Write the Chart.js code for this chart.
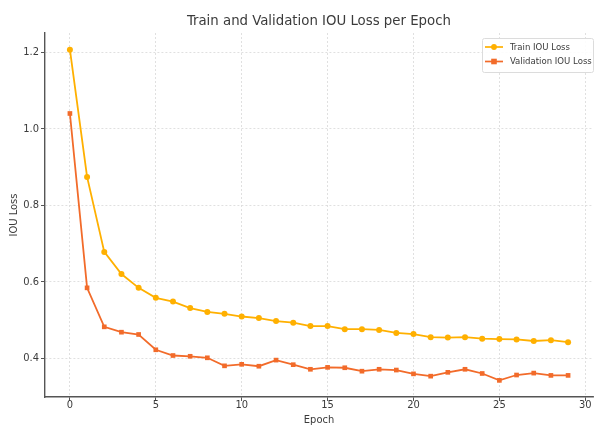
<!DOCTYPE html>
<html>
<head>
<meta charset="utf-8">
<script src="https://cdn.jsdelivr.net/npm/chart.js@4.4.1/dist/chart.umd.min.js"></script>
<style>
html,body{margin:0;padding:0;background:#fff;}
#wrap{width:597px;height:426px;position:relative;}
</style>
</head>
<body>
<div id="wrap"><canvas id="c" width="597" height="426"></canvas></div>
<script>
const epochs = [0,1,2,3,4,5,6,7,8,9,10,11,12,13,14,15,16,17,18,19,20,21,22,23,24,25,26,27,28,29];
const trainLoss = [1.207,0.874,0.678,0.620,0.584,0.558,0.548,0.531,0.521,0.516,0.509,0.505,0.497,0.493,0.484,0.484,0.476,0.476,0.474,0.466,0.463,0.455,0.454,0.455,0.451,0.450,0.449,0.445,0.447,0.442];
const valLoss = [1.040,0.584,0.482,0.468,0.462,0.422,0.407,0.405,0.401,0.380,0.384,0.379,0.395,0.383,0.371,0.376,0.375,0.366,0.371,0.369,0.359,0.353,0.363,0.371,0.360,0.342,0.356,0.361,0.355,0.355];
const xTicks = [0,5,10,15,20,25,30];
const yTicks = [0.4,0.6,0.8,1.0,1.2];
const seriesLabels = ['Train IOU Loss','Validation IOU Loss'];
const titleText = 'Train and Validation IOU Loss per Epoch';
const xTitle = 'Epoch';
const yTitle = 'IOU Loss';

const FONT = "'DejaVu Sans Condensed','DejaVu Sans',sans-serif";
const TXT = '#3b3b3b';
const AXIS = '#555555';
const GRID = '#d9d9d9';
const C_TRAIN = '#FFB000';
const C_VAL = '#F26B2A';

const titlePlugin = {
  id: 'customTitle',
  afterDraw(chart) {
    const ctx = chart.ctx, a = chart.chartArea;
    ctx.save();
    ctx.fillStyle = TXT;
    ctx.font = "14.8px " + FONT;
    ctx.textAlign = 'center';
    ctx.textBaseline = 'middle';
    ctx.fillText(titleText, (a.left + a.right) / 2, 21);
    ctx.restore();
  }
};

const legendPlugin = {
  id: 'customLegend',
  afterDraw(chart) {
    const ctx = chart.ctx;
    const bx = 482, by = 38, bw = 111, bh = 34;
    ctx.save();
    ctx.fillStyle = 'rgba(255,255,255,0.9)';
    ctx.strokeStyle = '#dcdcdc';
    ctx.lineWidth = 1;
    ctx.beginPath();
    if (ctx.roundRect) ctx.roundRect(bx + 0.5, by + 0.5, bw, bh, 2); else ctx.rect(bx + 0.5, by + 0.5, bw, bh);
    ctx.fill();
    ctx.stroke();
    chart.data.datasets.forEach((ds, i) => {
      const y = by + 9 + i * 14.5;
      ctx.strokeStyle = ds.borderColor;
      ctx.lineWidth = 1.7;
      ctx.beginPath();
      ctx.moveTo(485, y);
      ctx.lineTo(503, y);
      ctx.stroke();
      ctx.fillStyle = ds.borderColor;
      if (ds.pointStyle === 'rect') {
        ctx.fillRect(494 - 2.8, y - 2.8, 5.6, 5.6);
      } else {
        ctx.beginPath();
        ctx.arc(494, y, 2.9, 0, Math.PI * 2);
        ctx.fill();
      }
      ctx.fillStyle = TXT;
      ctx.font = "9.5px " + FONT;
      ctx.textAlign = 'left';
      ctx.textBaseline = 'middle';
      ctx.fillText(ds.label, 510, y + 0.5);
    });
    ctx.restore();
  }
};

new Chart(document.getElementById('c'), {
  type: 'line',
  data: {
    datasets: [
      {
        label: seriesLabels[0],
        data: epochs.map((e, i) => ({x: e, y: trainLoss[i]})),
        borderColor: C_TRAIN,
        backgroundColor: C_TRAIN,
        borderWidth: 1.8,
        pointStyle: 'circle',
        pointRadius: 3.0,
        pointBorderWidth: 0,
        tension: 0
      },
      {
        label: seriesLabels[1],
        data: epochs.map((e, i) => ({x: e, y: valLoss[i]})),
        borderColor: C_VAL,
        backgroundColor: C_VAL,
        borderWidth: 1.8,
        pointStyle: 'rect',
        pointRadius: 3.3,
        pointBorderWidth: 0,
        tension: 0
      }
    ]
  },
  options: {
    responsive: false,
    animation: false,
    devicePixelRatio: 1,
    layout: {padding: {top: 33, left: 0, right: 0, bottom: 0}},
    plugins: {legend: {display: false}, title: {display: false}, tooltip: {enabled: false}},
    scales: {
      x: {
        type: 'linear',
        min: -1.45,
        max: 30.45,
        afterBuildTicks(s) { s.ticks = xTicks.map(v => ({value: v})); },
        afterFit(s) { s.height = 29; s.paddingLeft = 0; s.paddingRight = 0; },
        ticks: {color: TXT, font: {family: FONT, size: 11}, padding: -2, maxRotation: 0, autoSkip: false,
          callback: v => String(v)},
        grid: {color: GRID, lineWidth: 0.8, tickLength: 4, tickColor: AXIS, tickWidth: 1, tickBorderDash: []},
        border: {display: true, color: AXIS, width: 1.4, dash: [2, 2]},
        title: {display: true, text: xTitle, color: TXT, font: {family: FONT, size: 11}, padding: {top: 0, bottom: -1}}
      },
      y: {
        type: 'linear',
        min: 0.2985,
        max: 1.2505,
        afterBuildTicks(s) { s.ticks = yTicks.map(v => ({value: v})); },
        afterFit(s) { s.width = 45; },
        ticks: {color: TXT, font: {family: FONT, size: 11}, padding: 2, callback: v => v.toFixed(1)},
        grid: {color: GRID, lineWidth: 0.8, tickLength: 4, tickColor: AXIS, tickWidth: 1, tickBorderDash: []},
        border: {display: true, color: AXIS, width: 1.4, dash: [2, 2]},
        title: {display: true, text: yTitle, color: TXT, font: {family: FONT, size: 11}, padding: {top: 8, bottom: 0}}
      }
    }
  },
  plugins: [titlePlugin, legendPlugin]
});
</script>
</body>
</html>
